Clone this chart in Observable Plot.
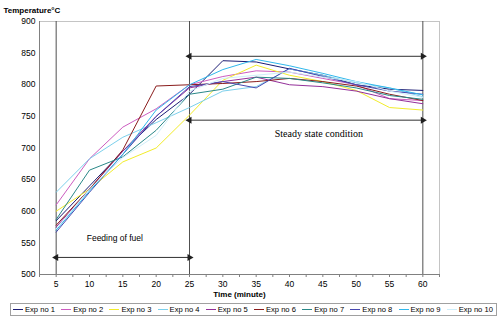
<!DOCTYPE html>
<html>
<head>
<meta charset="utf-8">
<script src="https://cdn.jsdelivr.net/npm/d3@7"></script>
<script src="https://cdn.jsdelivr.net/npm/@observablehq/plot@0.6"></script>
<style>
  body { margin: 0; background: #fff; font-family: "Liberation Sans", Arial, sans-serif; }
  #chart { width: 500px; height: 318px; position: relative; }
  #legend { position: absolute; left: 10px; top: 303px; width: 487px; height: 13px; border: 1px solid #a0a0a0;
            display: flex; align-items: center; font-size: 7.6px; box-sizing: border-box; padding-left: 2px; overflow: hidden; }
  .item { width: 48.2px; flex: none; display: flex; align-items: center; white-space: nowrap; }
  .sw { width: 10px; height: 0; border-top: 1px solid; margin-right: 2px; flex: none; }
</style>
</head>
<body>
<div id="chart"></div>
<script>
const times = [5, 10, 15, 20, 25, 30, 35, 40, 45, 50, 55, 60];
const seriesNames = ["Exp no 1","Exp no 2","Exp no 3","Exp no 4","Exp no 5","Exp no 6","Exp no 7","Exp no 8","Exp no 9","Exp no 10"];
const seriesColors = ["#1c1c74","#cc5cc0","#f2ec2a","#7cd0ec","#94309a","#8a1c1c","#2a8888","#4848b0","#30b8ec","#cfeefa"];
const exp1  = [585, 640, 695, 745, 785, 838, 836, 825, 815, 800, 793, 791];
const exp2  = [610, 683, 733, 762, 800, 813, 822, 820, 810, 800, 778, 775];
const exp3  = [600, 635, 678, 700, 752, 807, 831, 815, 805, 791, 764, 760];
const exp4  = [630, 683, 717, 740, 764, 790, 797, 825, 815, 803, 795, 781];
const exp5  = [575, 635, 695, 750, 795, 805, 812, 800, 797, 790, 778, 770];
const exp6  = [578, 635, 697, 798, 800, 802, 805, 810, 805, 798, 785, 775];
const exp7  = [587, 665, 686, 728, 785, 793, 812, 810, 803, 795, 783, 777];
const exp8  = [567, 630, 690, 750, 797, 805, 795, 826, 813, 800, 790, 785];
const exp9  = [570, 632, 690, 760, 800, 824, 840, 830, 818, 805, 795, 784];
const exp10 = [572, 635, 685, 720, 790, 810, 815, 820, 812, 805, 790, 780];
const allSeries = [exp1, exp2, exp3, exp4, exp5, exp6, exp7, exp8, exp9, exp10];
const yTicks = [500, 550, 600, 650, 700, 750, 800, 850, 900];
const xTickLabels = [5, 10, 15, 20, 25, 30, 35, 40, 45, 50, 55, 60];
const phaseLines = [5, 25, 60];
const arrowSpans = [
  {x1: 5, x2: 25, y: 527},
  {x1: 25, x2: 60, y: 845},
  {x1: 25, x2: 60, y: 744}
];
const notes = [
  {x: 13.8, y: 558, text: "Feeding of fuel", size: 8.5},
  {x: 44.4, y: 723, text: "Steady state condition", size: 10}
];

const rows = [];
allSeries.forEach((vals, i) => vals.forEach((v, j) => rows.push({series: seriesNames[i], t: times[j], temp: v})));
const heads = [];
arrowSpans.forEach(a => { heads.push({x: a.x1, y: a.y, rot: -90}); heads.push({x: a.x2, y: a.y, rot: 90}); });
const xTickPos = d3.range(2.5, 62.6, 2.5);

const plot = Plot.plot({
  width: 500, height: 300,
  marginTop: 21, marginLeft: 39, marginRight: 61, marginBottom: 26,
  style: {fontFamily: "Liberation Sans, Arial, sans-serif", fontSize: "8.5px", color: "#000", background: "#fff"},
  x: {domain: [2.5, 62.5]},
  y: {domain: [500, 900]},
  color: {domain: seriesNames, range: seriesColors},
  marks: [
    Plot.frame({stroke: "#c4c4c4"}),
    Plot.ruleY([500], {stroke: "#808080"}),
    Plot.ruleX([2.5], {stroke: "#808080"}),
    Plot.axisX({ticks: xTickPos, tickSize: 3, tickPadding: 3, stroke: "#808080",
      tickFormat: d => xTickLabels.includes(d) ? String(d) : "", label: null}),
    Plot.axisY({ticks: yTicks, tickSize: 0, tickPadding: 4, label: null}),
    Plot.ruleX(phaseLines, {stroke: "#505050", strokeWidth: 1}),
    Plot.line(rows, {x: "t", y: "temp", z: "series", stroke: "series", strokeWidth: 1}),
    Plot.link(arrowSpans, {x1: "x1", x2: "x2", y1: "y", y2: "y", stroke: "#303030", strokeWidth: 1}),
    Plot.dot(heads, {x: "x", y: "y", symbol: "triangle", r: 2.6, fill: "#202020", rotate: "rot"}),
    Plot.text(notes.filter(n => n.size < 9), {x: "x", y: "y", text: "text", fontSize: 8.5, fill: "#000"}),
    Plot.text(notes.filter(n => n.size >= 9), {x: "x", y: "y", text: "text", fontSize: 10, fontFamily: "Liberation Serif, Times New Roman, serif", fill: "#000"}),
    Plot.text(["Temperature°C"], {frameAnchor: "top-left", dx: -36, dy: -14, textAnchor: "start", fontWeight: "bold", fontSize: 8}),
    Plot.text(["Time (minute)"], {frameAnchor: "bottom", dy: 22.5, fontWeight: "bold", fontSize: 8})
  ]
});
const chart = document.getElementById("chart");
chart.appendChild(plot);

const legend = document.createElement("div");
legend.id = "legend";
seriesNames.forEach((n, i) => {
  const it = document.createElement("div");
  it.className = "item";
  const sw = document.createElement("span");
  sw.className = "sw";
  sw.style.borderTopColor = seriesColors[i];
  const tx = document.createElement("span");
  tx.textContent = n;
  it.appendChild(sw); it.appendChild(tx);
  legend.appendChild(it);
});
chart.appendChild(legend);
</script>
</body>
</html>
